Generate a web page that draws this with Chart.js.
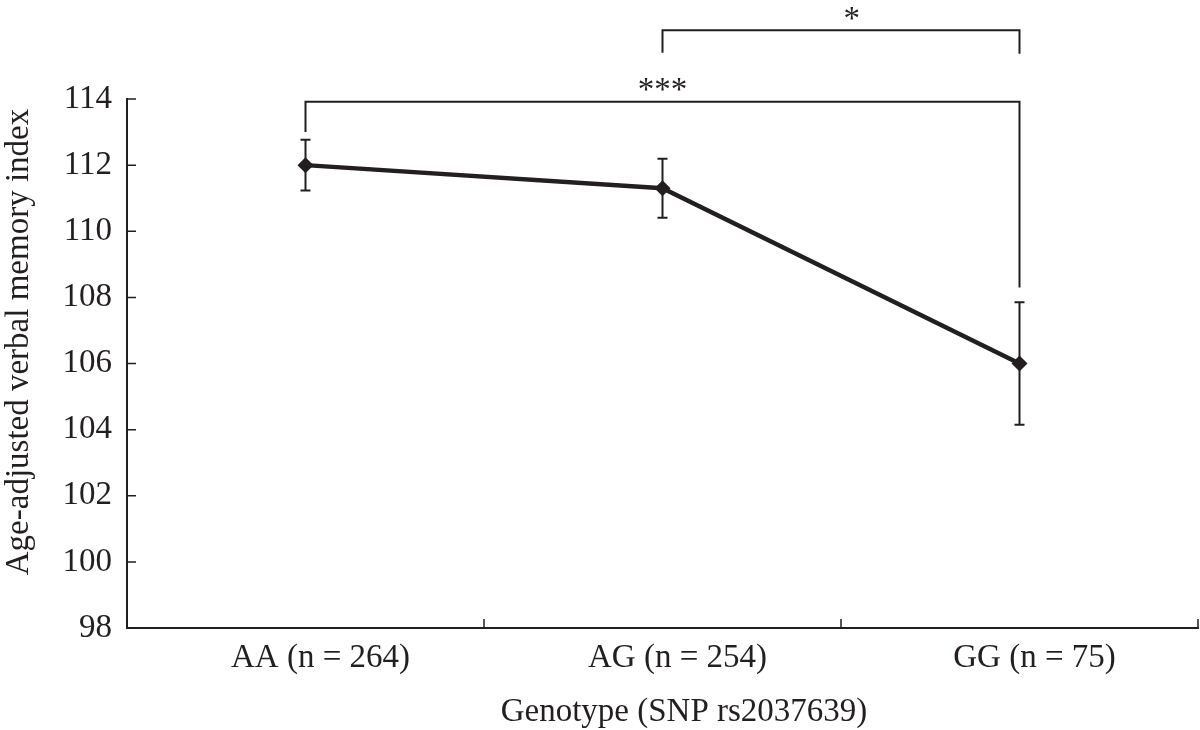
<!DOCTYPE html>
<html>
<head>
<meta charset="utf-8">
<script src="https://cdn.jsdelivr.net/npm/chart.js@4"></script>
<style>
    html, body { margin: 0; background: #fff; overflow: hidden; }
    #wrap { width: 1206px; height: 730px; position: relative; }
    canvas { display: block; }
</style>
</head>
<body>
<div id="wrap"><canvas id="memoryChart"></canvas></div>
<script>
// data
const genotypes = ['AA (n = 264)', 'AG (n = 254)', 'GG (n = 75)'];
const memoryIndex = [112.0, 111.3, 106.0];
const errorHalf = [0.77, 0.89, 1.85];
const yTicks = [98, 100, 102, 104, 106, 108, 110, 112, 114];

// significance brackets: from / to category, bar level, end levels, label
const brackets = [
    { from: 0, to: 2, level: 113.92, endFrom: 113.0, endTo: 108.3, label: '***', labelX: 1, labelY: 113.97 },
    { from: 1, to: 2, level: 116.08, endFrom: 115.4, endTo: 115.37, label: '*', labelX: 1.53, labelY: 116.12 }
];

const ink = '#231f20';
const serif = "'Liberation Serif', 'Times New Roman', serif";

// error bars, inward ticks, brackets and axis titles
const extrasPlugin = {
    id: 'extras',
    afterDatasetsDraw(chart) {
        const { ctx, scales: { x, y }, chartArea } = chart;
        ctx.save();
        ctx.strokeStyle = ink;
        ctx.fillStyle = ink;

        // error bars
        ctx.lineWidth = 2;
        memoryIndex.forEach((v, i) => {
            const px = x.getPixelForValue(i);
            const top = y.getPixelForValue(v + errorHalf[i]);
            const bot = y.getPixelForValue(v - errorHalf[i]);
            ctx.beginPath();
            ctx.moveTo(px, top); ctx.lineTo(px, bot);
            ctx.moveTo(px - 5, top); ctx.lineTo(px + 5, top);
            ctx.moveTo(px - 5, bot); ctx.lineTo(px + 5, bot);
            ctx.stroke();
        });

        // inward ticks
        ctx.lineWidth = 1.5;
        ctx.beginPath();
        yTicks.forEach(t => {
            const py = y.getPixelForValue(t);
            ctx.moveTo(chartArea.left, py);
            ctx.lineTo(chartArea.left + 9, py);
        });
        const step = (chartArea.right - chartArea.left) / genotypes.length;
        for (let i = 0; i <= genotypes.length; i++) {
            const px = chartArea.left + i * step;
            ctx.moveTo(px, chartArea.bottom);
            ctx.lineTo(px, chartArea.bottom - 9);
        }
        ctx.stroke();

        // brackets
        ctx.lineWidth = 2;
        ctx.font = '33px ' + serif;
        ctx.textAlign = 'center';
        ctx.textBaseline = 'alphabetic';
        brackets.forEach(b => {
            const x1 = x.getPixelForValue(b.from);
            const x2 = x.getPixelForValue(b.to);
            const yl = y.getPixelForValue(b.level);
            ctx.beginPath();
            ctx.moveTo(x1, y.getPixelForValue(b.endFrom));
            ctx.lineTo(x1, yl);
            ctx.lineTo(x2, yl);
            ctx.lineTo(x2, y.getPixelForValue(b.endTo));
            ctx.stroke();
            ctx.fillText(b.label, x.getPixelForValue(b.labelX), y.getPixelForValue(b.labelY));
        });

        // axis titles
        ctx.fillText('Genotype (SNP rs2037639)', 684, 721);
        ctx.translate(28, 342);
        ctx.rotate(-Math.PI / 2);
        ctx.fillText('Age-adjusted verbal memory index', 0, 0);
        ctx.restore();
    }
};

const ctx = document.getElementById('memoryChart').getContext('2d');
new Chart(ctx, {
    type: 'line',
    data: {
        labels: genotypes,
        datasets: [{
            data: memoryIndex,
            borderColor: ink,
            borderWidth: 4.5,
            backgroundColor: ink,
            pointStyle: 'rectRot',
            pointRadius: 8,
            pointBorderWidth: 0,
            tension: 0,
            clip: false
        }]
    },
    options: {
        responsive: true,
        maintainAspectRatio: false,
        animation: false,
        layout: { padding: { top: 99, left: 0, right: 2, bottom: 0 } },
        plugins: {
            legend: { display: false },
            tooltip: { enabled: false }
        },
        scales: {
            x: {
                offset: true,
                grid: { display: false, drawTicks: false },
                border: { display: true, color: ink, width: 2 },
                ticks: {
                    color: ink,
                    font: { family: serif, size: 33 },
                    padding: 11,
                    labelOffset: 15,
                    maxRotation: 0
                },
                afterFit: s => { s.height = 102; }
            },
            y: {
                min: 98,
                max: 114,
                grid: { display: false, drawTicks: false },
                border: { display: true, color: ink, width: 2 },
                ticks: {
                    color: ink,
                    stepSize: 2,
                    font: { family: serif, size: 33 },
                    padding: 15
                },
                afterFit: s => { s.width = 127; }
            }
        }
    },
    plugins: [extrasPlugin]
});
</script>
</body>
</html>
